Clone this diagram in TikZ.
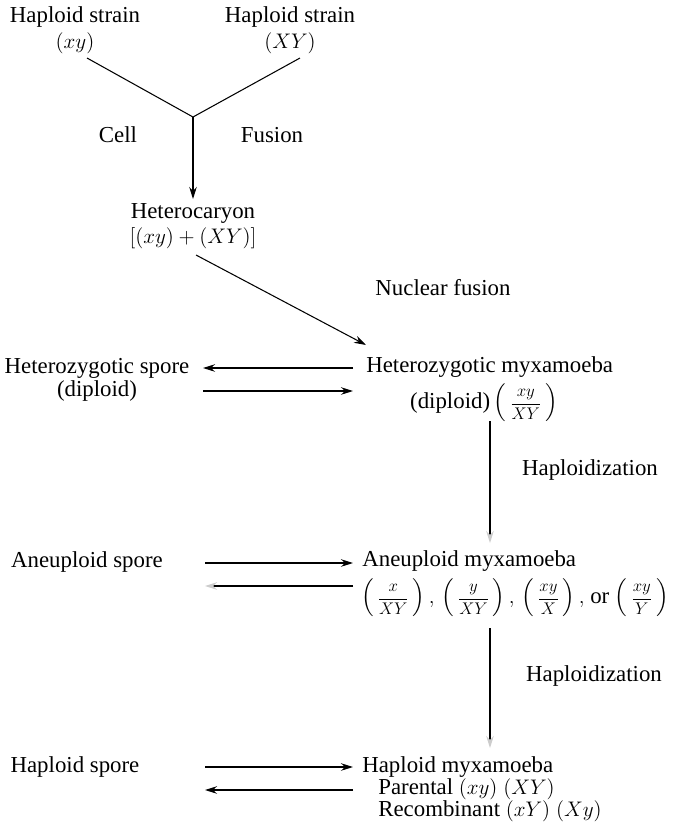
\documentclass[tikz,border=0pt]{standalone}
\usepackage{amsmath}
\usepackage{fontspec}
\setmainfont{Liberation Serif}
\usetikzlibrary{arrows.meta,positioning,calc}
\newcommand{\genofrac}[2]{\left(\,\scalebox{0.8}{$\dfrac{#1}{#2}$}\,\right)}

\begin{document}
\begin{tikzpicture}[x=0.02cm, y=-0.02cm,
    every node/.style={font=\fontsize{13}{15}\selectfont, inner sep=0pt},
    flow/.style={line width=0.6pt, -{Stealth[length=2.4mm,width=1.5mm]}},
    faint/.style={line width=0.6pt, -{Stealth[length=2.4mm,width=1.5mm,color=black!20]}},
    plain/.style={line width=0.6pt}]
  \useasboundingbox (0,0) rectangle (699,823);

  % the two parent strains and cell fusion
  \node (strainL) at (75,17) {Haploid strain};
  \node (genoL) at (75,43) {$(xy)$};
  \node (strainR) at (290,17) {Haploid strain};
  \node (genoR) at (290,43) {$(XY)$};
  \coordinate (fromL) at (87,58);
  \coordinate (fromR) at (300,58);
  \coordinate (join) at (193,117);
  \draw[plain] (fromL) -- (join) -- (fromR);
  \node (cell) at (118,135) {Cell};
  \node (fusion) at (272,135) {Fusion};

  \node (hetero) at (193,213) {Heterocaryon};
  \node (heterog) at (193,238) {$[(xy)+(XY)]$};
  \coordinate (heteroTop) at (193,199);
  \draw[flow] (join) -- (heteroTop);

  % nuclear fusion
  \coordinate (nucA) at (196,255);
  \coordinate (nucB) at (366,345);
  \draw[flow] (nucA) -- (nucB);
  \node (nuclear) at (443,288) {Nuclear fusion};

  % diploid level
  \node (hzspore) at (97,368) {Heterozygotic spore};
  \node (hzsporeb) at (97,391) {(diploid)};
  \node[anchor=west] (hzmyx) at (366,367) {Heterozygotic myxamoeba};
  \node (hzmyxb) at (484,403) {(diploid)\,$\genofrac{xy}{XY}$};
  \coordinate (hzL1) at (203,368);
  \coordinate (hzR1) at (353,368);
  \coordinate (hzL2) at (203,391);
  \coordinate (hzR2) at (353,391);
  \draw[flow] (hzR1) -- (hzL1);
  \draw[flow] (hzL2) -- (hzR2);

  \coordinate (hapA) at (490,421);
  \coordinate (hapB) at (490,543);
  \draw[faint] (hapA) -- (hapB);
  \node (haplo1) at (590,470) {Haploidization};

  % aneuploid level
  \node (anspore) at (87,562) {Aneuploid spore};
  \node[anchor=west] (anmyx) at (362,561) {Aneuploid myxamoeba};
  \node (anmyxb) at (515,598) {$\genofrac{x}{XY},\,\genofrac{y}{XY},\,\genofrac{xy}{X},$ or $\genofrac{xy}{Y}$};
  \coordinate (anL1) at (205,563);
  \coordinate (anR1) at (353,563);
  \coordinate (anL2) at (205,586);
  \coordinate (anR2) at (353,586);
  \draw[flow] (anL1) -- (anR1);
  \draw[faint] (anR2) -- (anL2);

  \coordinate (hapC) at (490,628);
  \coordinate (hapD) at (490,748);
  \draw[faint] (hapC) -- (hapD);
  \node (haplo2) at (594,676) {Haploidization};

  % haploid level
  \node (hpspore) at (75,767) {Haploid spore};
  \node[anchor=west] (hpmyx) at (362,767) {Haploid myxamoeba};
  \node[anchor=west] (parental) at (378,789) {Parental $(xy)\;(XY)$};
  \node[anchor=west] (recomb) at (378,811) {Recombinant $(xY)\;(Xy)$};
  \coordinate (hpL1) at (205,767);
  \coordinate (hpR1) at (353,767);
  \coordinate (hpL2) at (205,790);
  \coordinate (hpR2) at (353,790);
  \draw[flow] (hpL1) -- (hpR1);
  \draw[flow] (hpR2) -- (hpL2);
\end{tikzpicture}
\end{document}
